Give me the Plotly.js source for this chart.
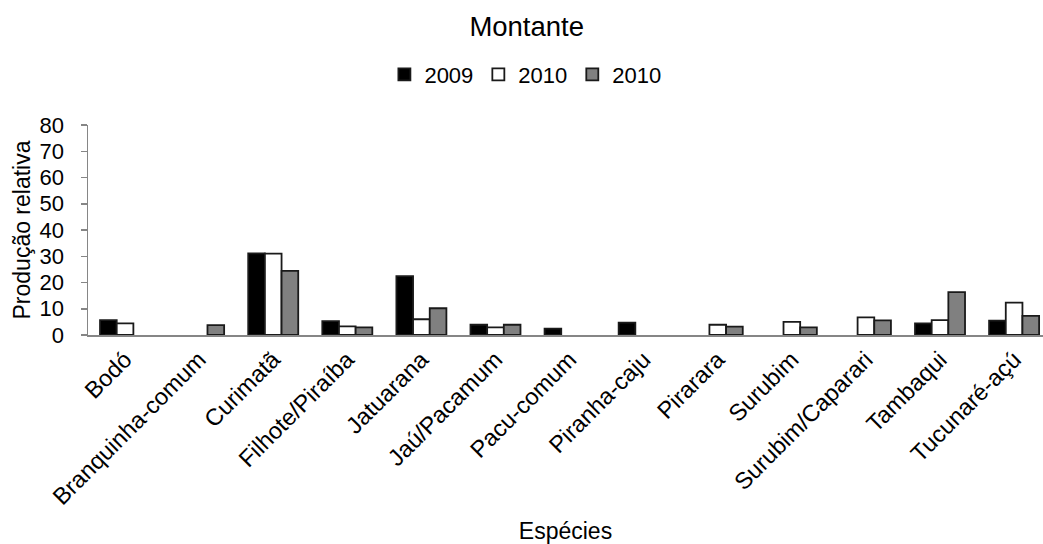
<!DOCTYPE html>
<html>
<head>
<meta charset="utf-8">
<script src="https://cdn.plot.ly/plotly-3.0.1.min.js"></script>
<style>html,body{margin:0;padding:0;background:#fff;}#chart{width:1043px;height:544px;}</style>
</head>
<body>
<div id="chart"></div>
<script>
const categories = ["Bodó","Branquinha-comum","Curimatã","Filhote/Piraíba","Jatuarana","Jaú/Pacamum","Pacu-comum","Piranha-caju","Pirarara","Surubim","Surubim/Caparari","Tambaqui","Tucunaré-açú"];
const seriesNames = ["2009","2010","2010"];
const values2009 = [5.7, 0, 31.1, 5.3, 22.4, 3.9, 2.4, 4.7, 0, 0, 0, 4.4, 5.5];
const values2010a = [4.4, 0, 31.0, 3.3, 6.0, 2.9, 0, 0, 3.9, 5.0, 6.7, 5.7, 12.3];
const values2010b = [0, 3.8, 24.4, 2.9, 10.2, 3.9, 0, 0, 3.2, 2.9, 5.6, 16.3, 7.3];
const yTicks = [0,10,20,30,40,50,60,70,80];

const colors = ["#000000","#ffffff","#808080"];
const allValues = [values2009, values2010a, values2010b];
const font = "Liberation Sans, Arial, sans-serif";

const traces = allValues.map((v, i) => ({
  type: "bar",
  x: categories,
  y: v.map(d => d === 0 ? null : d),
  name: seriesNames[i],
  marker: {color: colors[i], line: {color: "#1a1a1a", width: 1.8}},
  hoverinfo: "x+y"
}));

const layout = {
  width: 1043, height: 544,
  margin: {l: 88, r: 0, t: 125, b: 209},
  paper_bgcolor: "#fff", plot_bgcolor: "#fff",
  font: {family: font, size: 22, color: "#000"},
  title: {text: "Montante", x: 0.505, xanchor: "center", y: 0.951, yanchor: "middle", font: {family: font, size: 27.5, color: "#000"}},
  barmode: "group",
  bargap: 0.325,
  bargroupgap: 0,
  showlegend: true,
  legend: {orientation: "h", x: 0.458, xanchor: "center", y: 1.24, yanchor: "middle", font: {family: font, size: 22}, itemwidth: 30, traceorder: "normal"},
  xaxis: {
    type: "category",
    range: [-0.5, 12.39],
    tickangle: -45,
    showline: true, linecolor: "#868686", linewidth: 1.5,
    ticks: "", showgrid: false, zeroline: false,
    tickfont: {family: font, size: 23.5},
    title: {text: "Espécies", font: {family: font, size: 23}, standoff: 26}
  },
  yaxis: {
    range: [0, 80],
    tickvals: yTicks,
    ticktext: yTicks.map(String),
    showline: true, linecolor: "#868686", linewidth: 1.5,
    ticks: "outside", ticklen: 6, tickcolor: "#868686", tickwidth: 1.5,
    ticklabelstandoff: 12,
    showgrid: false, zeroline: false,
    tickfont: {family: font, size: 22},
    title: {text: "Produção relativa", font: {family: font, size: 23}, standoff: 2}
  }
};

Plotly.newPlot("chart", traces, layout, {displayModeBar: false, staticPlot: true});
</script>
</body>
</html>
